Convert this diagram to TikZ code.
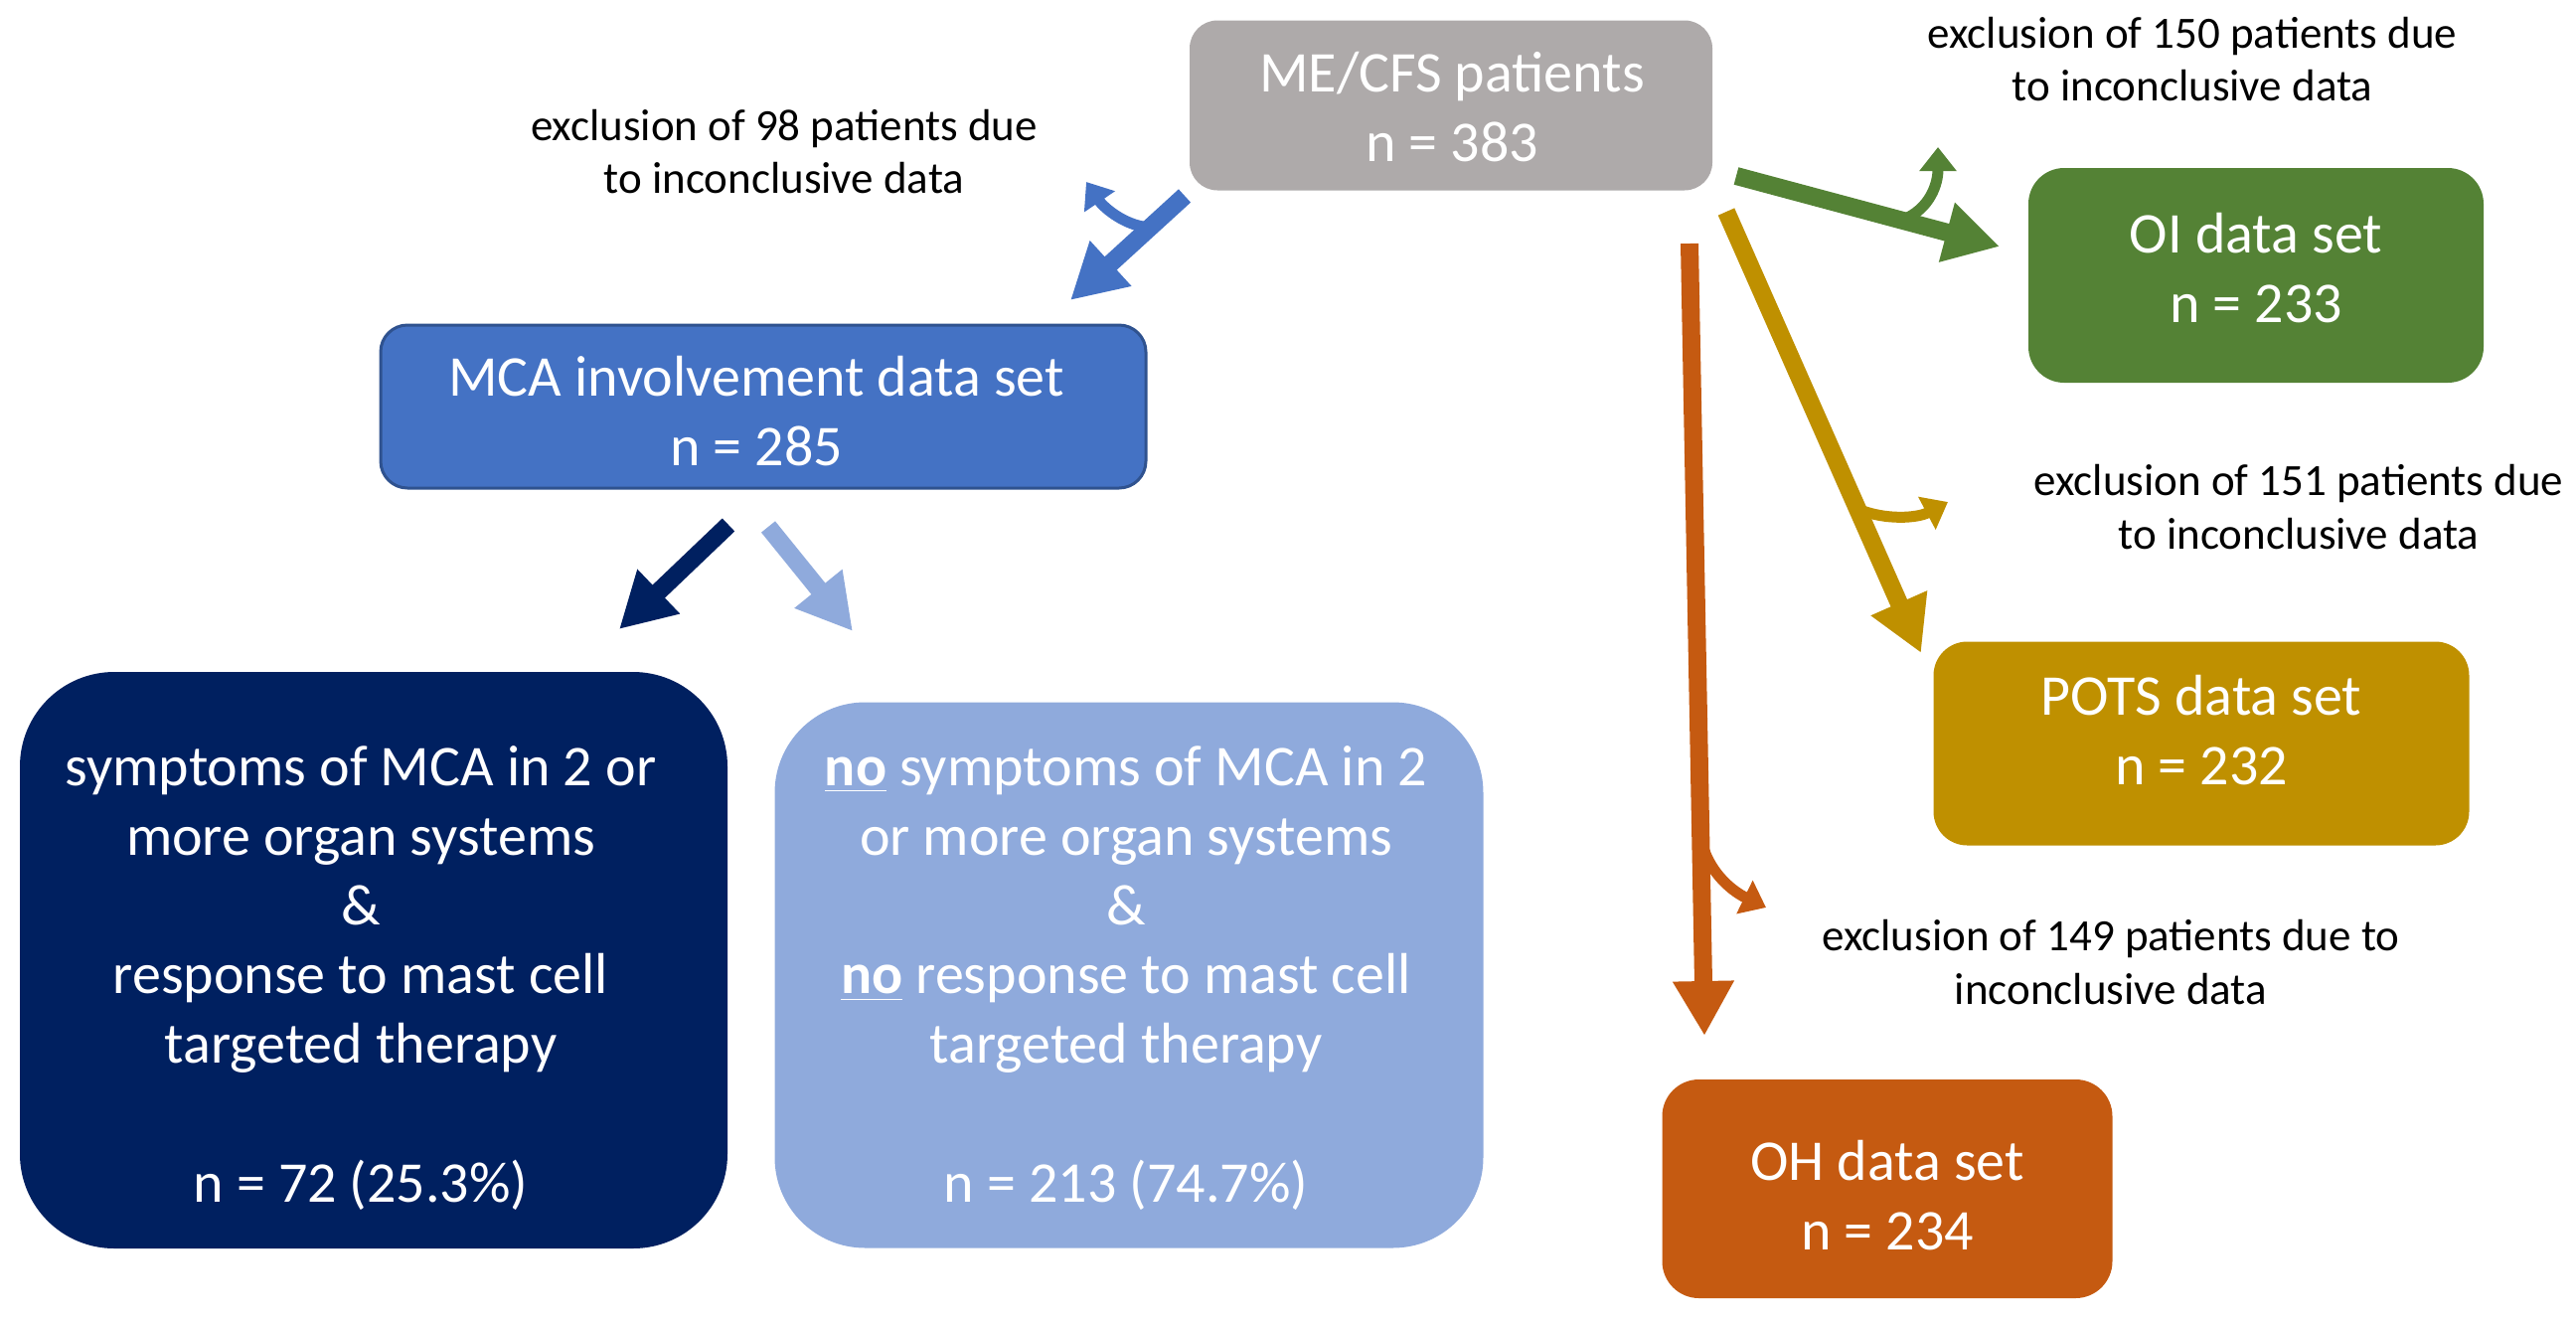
\documentclass[tikz,border=0pt]{standalone}
\usepackage{fontspec}
\setmainfont{Carlito}
\usetikzlibrary{arrows.meta}
\definecolor{cgray}{HTML}{AEAAAA}
\definecolor{cblue}{HTML}{4472C4}
\definecolor{cblueline}{HTML}{2F528F}
\definecolor{cnavy}{HTML}{002060}
\definecolor{clight}{HTML}{8FAADC}
\definecolor{cgreen}{HTML}{548235}
\definecolor{cgold}{HTML}{BF9000}
\definecolor{corange}{HTML}{C55A11}
\begin{document}
\begin{tikzpicture}[x=0.1mm,y=-0.1mm,
  box/.style={draw=none, inner sep=0pt},
  boxtext/.style={text=white, align=center, inner sep=0pt,
    font=\fontsize{16.5}{19.9}\selectfont},
  excl/.style={text=black, align=center, inner sep=0pt,
    font=\fontsize{12.8}{15.1}\selectfont},
  bigarrow/.style={line width=1.8mm, -{Triangle[length=5.5mm,width=5.8mm]}},
  smallarrow/.style={line width=1.1mm, -{Triangle[length=2.4mm,width=3.6mm]}}]
\useasboundingbox (0,0) rectangle (2592,1329);

% boxes
\node[box, fill=cgray, rounded corners=2.8mm, minimum width=52.6mm, minimum height=17.1mm]
  (mecfs) at (1460,106) {};
\node[boxtext] (mecfs-t) at (1461,108) {ME/CFS patients\\ n = 383};
\node[box, fill=cblue, draw=cblueline, line width=0.3mm, rounded corners=2.7mm,
  minimum width=77mm, minimum height=16.4mm]
  (mca) at (768,409) {};
\node[boxtext] (mca-t) at (761,414) {MCA involvement data set\\ n = 285};
\node[box, fill=cnavy, rounded corners=9.5mm, minimum width=71.2mm, minimum height=58mm]
  (yes) at (376,966) {};
\node[boxtext] (yes-t) at (363,984) {symptoms of MCA in 2 or\\ more organ systems\\ \&\\
  response to mast cell\\ targeted therapy\\[19.9pt] n = 72 (25.3\%)};
\node[box, fill=clight, rounded corners=9.1mm, minimum width=71.3mm, minimum height=54.9mm]
  (no) at (1136,981) {};
\node[boxtext] (no-t) at (1133,984) {\textbf{\underline{no}} symptoms of MCA in 2\\ or more organ systems\\ \&\\
  \textbf{\underline{no}} response to mast cell\\ targeted therapy\\[19.9pt] n = 213 (74.7\%)};
\node[box, fill=cgreen, rounded corners=3.6mm, minimum width=45.8mm, minimum height=21.6mm]
  (oi) at (2270,277) {};
\node[boxtext] (oi-t) at (2270,270) {OI data set\\ n = 233};
\node[box, fill=cgold, rounded corners=3.4mm, minimum width=53.9mm, minimum height=20.5mm]
  (pots) at (2215,748) {};
\node[boxtext] (pots-t) at (2215,735) {POTS data set\\ n = 232};
\node[box, fill=corange, rounded corners=3.7mm, minimum width=45.3mm, minimum height=22mm]
  (oh) at (1899,1196) {};
\node[boxtext] (oh-t) at (1899,1203) {OH data set\\ n = 234};

% exclusion texts
\node[excl] (ex98) at (789,153) {exclusion of 98 patients due\\ to inconclusive data};
\node[excl] (ex150) at (2206,60) {exclusion of 150 patients due\\ to inconclusive data};
\node[excl] (ex151) at (2313,510) {exclusion of 151 patients due\\ to inconclusive data};
\node[excl] (ex149) at (2124,968) {exclusion of 149 patients due to\\ inconclusive data};

% arrow end points
\coordinate (bS) at (1192,197);
\coordinate (bE) at (1077,302);
\coordinate (bbS) at (1150,228);
\coordinate (bbE) at (1093,183);
\coordinate (gS) at (1747,177);
\coordinate (gE) at (2012,248);
\coordinate (gbS) at (1915,221);
\coordinate (gbE) at (1950,148);
\coordinate (yS) at (1737,213);
\coordinate (yE) at (1933,657);
\coordinate (ybS) at (1869,512);
\coordinate (ybE) at (1960,505);
\coordinate (oS) at (1700,245);
\coordinate (oE) at (1715,1042);
\coordinate (obS) at (1711,840);
\coordinate (obE) at (1777,913);
\coordinate (nS) at (733,528);
\coordinate (nE) at (623,633);
\coordinate (lS) at (773,530);
\coordinate (lE) at (858,635);

% arrows
\draw[smallarrow, cblue] (bbS) .. controls (1128,224) and (1110,208) .. (bbE);
\draw[bigarrow, cblue] (bS) -- (bE);
\draw[smallarrow, cgreen] (gbS) .. controls (1942,210) and (1950,185) .. (gbE);
\draw[bigarrow, cgreen] (gS) -- (gE);
\draw[smallarrow, cgold] (ybS) .. controls (1898,524) and (1930,521) .. (ybE);
\draw[bigarrow, cgold] (yS) -- (yE);
\draw[smallarrow, corange] (obS) .. controls (1716,875) and (1742,896) .. (obE);
\draw[bigarrow, corange] (oS) -- (oE);
\draw[bigarrow, cnavy] (nS) -- (nE);
\draw[bigarrow, clight] (lS) -- (lE);
\end{tikzpicture}
\end{document}
